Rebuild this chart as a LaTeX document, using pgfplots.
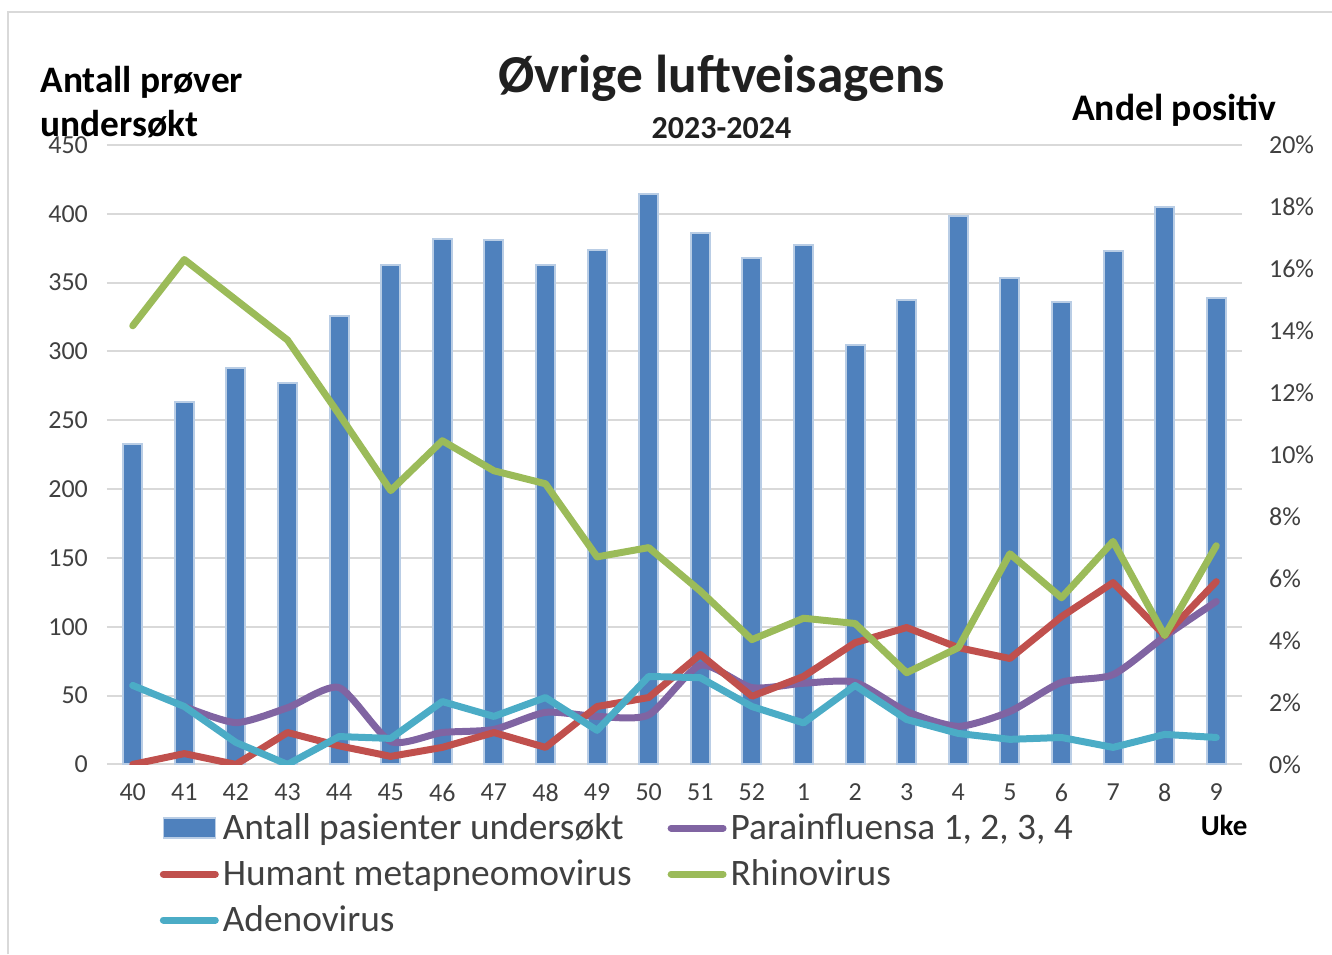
\documentclass[border=0pt]{standalone}
\usepackage{pgfplots}
\pgfplotsset{compat=1.18}
\usepackage{fontspec}
\setmainfont{Carlito}
\definecolor{barblue}{HTML}{4F81BD}
\definecolor{barborder}{HTML}{B9CDE5}
\definecolor{cpurple}{HTML}{8064A2}
\definecolor{cred}{HTML}{C0504D}
\definecolor{cgreen}{HTML}{9BBB59}
\definecolor{ccyan}{HTML}{4BACC6}
\definecolor{gridgray}{HTML}{D9D9D9}
\definecolor{tickgray}{HTML}{404040}
\begin{document}
\begin{tikzpicture}
\path[use as bounding box] (-53.5pt,-95pt) rectangle (613pt,382.5pt);
\draw[gridgray, line width=1pt] (-49.5pt,-95pt) -- (-49.5pt,376.5pt) -- (613pt,376.5pt);
\pgfplotsset{
  common/.style={
    scale only axis, width=568pt, height=310pt,
    xmin=-0.5, xmax=21.5,
    major tick length=0pt,
    axis line style={draw=none},
    tick label style={font=\fontsize{13}{15}\selectfont, text=tickgray},
    /pgf/number format/assume math mode=true,
  }
}
\begin{axis}[common,
  ymin=0, ymax=450, ytick={0,50,...,450},
  xtick={0,...,21},
  xticklabels={40,41,42,43,44,45,46,47,48,49,50,51,52,1,2,3,4,5,6,7,8,9},
  xticklabel style={yshift=-6pt},
  yticklabel style={xshift=-6pt},
  ymajorgrids, grid style={draw=gridgray, line width=1pt},
]
\addplot[ybar, bar width=9.5pt, fill=barblue, draw=barborder, line width=1pt] coordinates {
(0,233)(1,263)(2,288)(3,277)(4,326)(5,363)(6,382)(7,381)(8,363)(9,374)(10,414)
(11,386)(12,368)(13,377)(14,305)(15,337)(16,398)(17,353)(18,336)(19,373)(20,405)(21,339)};
\end{axis}
\begin{axis}[common,
  ymin=0, ymax=20, ytick={0,2,...,20},
  axis y line*=right, axis x line=none,
  yticklabel={\pgfmathprintnumber{\tick}\%},
  yticklabel style={xshift=10pt},
  legend columns=2,
  legend cell align=left,
  legend style={at={(0.041,-0.066)}, anchor=north west, draw=none, fill=none,
    font=\fontsize{18.7}{22.5}\selectfont, text=tickgray, row sep=4.5pt,
    /tikz/every even column/.append style={column sep=16pt}},
]
\addlegendimage{legend image code/.code={\fill[barblue, draw=barborder, line width=0.8pt] (0pt,-5pt) rectangle (26pt,5pt);}}
\addlegendentry{Antall pasienter undersøkt}
\addlegendimage{legend image code/.code={\draw[cpurple, line width=3.5pt, line cap=round] (0pt,0pt) -- (26pt,0pt);}}
\addlegendentry{Parainfluensa 1, 2, 3, 4}
\addlegendimage{legend image code/.code={\draw[cred, line width=3.5pt, line cap=round] (0pt,0pt) -- (26pt,0pt);}}
\addlegendentry{Humant metapneomovirus}
\addlegendimage{legend image code/.code={\draw[cgreen, line width=3.5pt, line cap=round] (0pt,0pt) -- (26pt,0pt);}}
\addlegendentry{Rhinovirus}
\addlegendimage{legend image code/.code={\draw[ccyan, line width=3.5pt, line cap=round] (0pt,0pt) -- (26pt,0pt);}}
\addlegendentry{Adenovirus}
% Parainfluensa
\addplot[forget plot, cpurple, line width=3.5pt, smooth, tension=0.4, line join=round, line cap=round] coordinates {
(1,1.87)(2,1.35)(3,1.83)(4,2.48)(5,0.74)(6,1.03)(7,1.13)(8,1.68)(9,1.55)(10,1.6)
(11,3.2)(12,2.48)(13,2.62)(14,2.65)(15,1.71)(16,1.23)(17,1.71)(18,2.65)(19,2.9)(20,4.13)(21,5.26)};
% HMPV
\addplot[forget plot, cred, line width=3.5pt, line join=round, line cap=round] coordinates {
(0,0)(1,0.35)(2,0)(3,1.03)(4,0.6)(5,0.26)(6,0.55)(7,1.03)(8,0.55)(9,1.87)(10,2.16)
(11,3.55)(12,2.2)(13,2.84)(14,3.93)(15,4.42)(16,3.77)(17,3.42)(18,4.77)(19,5.87)(20,4.16)(21,5.9)};
% Adenovirus
\addplot[forget plot, ccyan, line width=3.5pt, line join=round, line cap=round] coordinates {
(0,2.55)(1,1.87)(2,0.71)(3,0)(4,0.9)(5,0.84)(6,2.03)(7,1.55)(8,2.16)(9,1.1)(10,2.84)
(11,2.8)(12,1.87)(13,1.34)(14,2.55)(15,1.45)(16,1.0)(17,0.81)(18,0.87)(19,0.55)(20,0.97)(21,0.87)};
% Rhinovirus
\addplot[forget plot, cgreen, line width=3.5pt, line join=round, line cap=round] coordinates {
(0,14.16)(1,16.3)(2,15.0)(3,13.7)(4,11.3)(5,8.84)(6,10.45)(7,9.48)(8,9.06)(9,6.7)(10,7.0)
(11,5.6)(12,4.03)(13,4.72)(14,4.55)(15,2.96)(16,3.77)(17,6.8)(18,5.38)(19,7.2)(20,4.16)(21,7.06)};
\end{axis}
\node[font=\fontsize{26.7}{30}\selectfont\bfseries, text=tickgray!50!black] at (307.5pt,343.5pt) {Øvrige luftveisagens};
\node[font=\fontsize{16}{18}\selectfont\bfseries, text=tickgray!50!black] at (307.5pt,318.5pt) {2023-2024};
\node[font=\fontsize{18.7}{22}\selectfont\bfseries, anchor=north west, align=left, inner sep=0pt] at (-33.5pt,349.5pt) {Antall prøver\\undersøkt};
\node[font=\fontsize{18.8}{22}\selectfont\bfseries] at (534pt,327.5pt) {Andel positiv};
\node[font=\fontsize{14.5}{16}\selectfont\bfseries] at (559pt,-30.5pt) {Uke};
\end{tikzpicture}
\end{document}
